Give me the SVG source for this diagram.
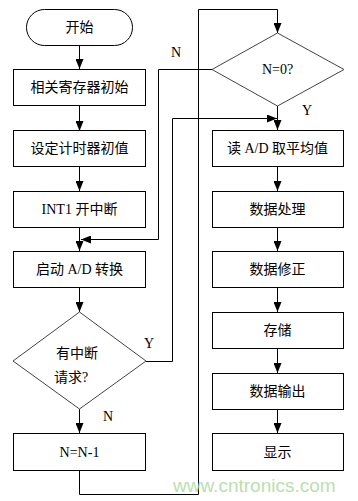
<svg xmlns="http://www.w3.org/2000/svg" width="358" height="501" viewBox="0 0 358 501">
<style>
.box{fill:#fff;stroke:#000;stroke-width:1}
.dia{fill:#fff;stroke:#444;stroke-width:1}
.t{font-family:"Liberation Serif","Noto Sans CJK SC",serif;font-size:14px;fill:#000;text-anchor:middle;dominant-baseline:central}
.c{fill:none;stroke:#000;stroke-width:1}
.wm{font-family:"Liberation Sans",Arial,sans-serif;font-size:19px;fill:#a8d89c;opacity:0.8}
</style>
<defs>
<marker id="ah" markerUnits="userSpaceOnUse" markerWidth="10" markerHeight="8" refX="10" refY="4" orient="auto">
<path d="M0,0 L10,4 L0,8 z" fill="#000"/>
</marker>
</defs>
<rect width="358" height="501" fill="#fff"/>
<g id="connectors">
<path class="c" d="M79.5,46 V69" marker-end="url(#ah)"/>
<path class="c" d="M79.5,106 V131" marker-end="url(#ah)"/>
<path class="c" d="M79.5,166 V191" marker-end="url(#ah)"/>
<path class="c" d="M79.5,227 V251" marker-end="url(#ah)"/>
<path class="c" d="M79.5,288 V312" marker-end="url(#ah)"/>
<path class="c" d="M79.5,409 V433" marker-end="url(#ah)"/>
<path class="c" d="M79.5,471 V494.5 H198.5 V9.5 H277.5 V33" marker-end="url(#ah)"/>
<path class="c" d="M146,361.5 H172.5 V118.5 H277" marker-end="url(#ah)"/>
<path class="c" d="M277.5,106 V130" marker-end="url(#ah)"/>
<path class="c" d="M212,69.5 H158.5 V239.5 H81" marker-end="url(#ah)"/>
<path class="c" d="M277.5,166 V191" marker-end="url(#ah)"/>
<path class="c" d="M277.5,227 V251" marker-end="url(#ah)"/>
<path class="c" d="M277.5,288 V312" marker-end="url(#ah)"/>
<path class="c" d="M277.5,348 V373" marker-end="url(#ah)"/>
<path class="c" d="M277.5,409 V433" marker-end="url(#ah)"/>
<text class="t" x="176" y="52">N</text>
<text class="t" x="149" y="343">Y</text>
<text class="t" x="108" y="416">N</text>
<text class="t" x="307" y="110">Y</text>
</g>
<g id="start"><rect class="box" x="26.5" y="9.5" width="106" height="36" rx="18" ry="18"/><text class="t" x="79.5" y="27.5">开始</text></g>
<g id="init"><rect class="box" x="13.5" y="69.5" width="132" height="36"/><text class="t" x="79.5" y="87.5">相关寄存器初始</text></g>
<g id="timer"><rect class="box" x="13.5" y="130.5" width="132" height="36"/><text class="t" x="79.5" y="148.5">设定计时器初值</text></g>
<g id="int1"><rect class="box" x="13.5" y="191.5" width="132" height="36"/><text class="t" x="79.5" y="209.5">INT1 开中断</text></g>
<g id="startad"><rect class="box" x="13.5" y="251.5" width="132" height="36"/><text class="t" x="79.5" y="269.5">启动 A/D 转换</text></g>
<g id="intreq"><polygon class="dia" points="79.5,312 146,361 79.5,409 13,361"/><text class="t" x="77" y="353">有中断</text><text class="t" x="71" y="377">请求?</text></g>
<g id="dec"><rect class="box" x="13.5" y="433.5" width="132" height="37"/><text class="t" x="79.5" y="452">N=N-1</text></g>
<g id="n0"><polygon class="dia" points="277.5,33 344,69.5 277.5,106 212,69.5"/><text class="t" x="277.5" y="69">N=0?</text></g>
<g id="read"><rect class="box" x="212.5" y="130.5" width="131" height="36"/><text class="t" x="277.5" y="148.5">读 A/D 取平均值</text></g>
<g id="proc"><rect class="box" x="212.5" y="191.5" width="131" height="36"/><text class="t" x="277.5" y="209.5">数据处理</text></g>
<g id="fix"><rect class="box" x="212.5" y="251.5" width="131" height="36"/><text class="t" x="277.5" y="269.5">数据修正</text></g>
<g id="store"><rect class="box" x="212.5" y="312.5" width="131" height="36"/><text class="t" x="277.5" y="330.5">存储</text></g>
<g id="out"><rect class="box" x="212.5" y="373.5" width="131" height="36"/><text class="t" x="277.5" y="391.5">数据输出</text></g>
<g id="show"><rect class="box" x="212.5" y="433.5" width="131" height="37"/><text class="t" x="277.5" y="452">显示</text></g>
<text class="wm" x="173" y="492">www.cntronics.com</text>
</svg>
